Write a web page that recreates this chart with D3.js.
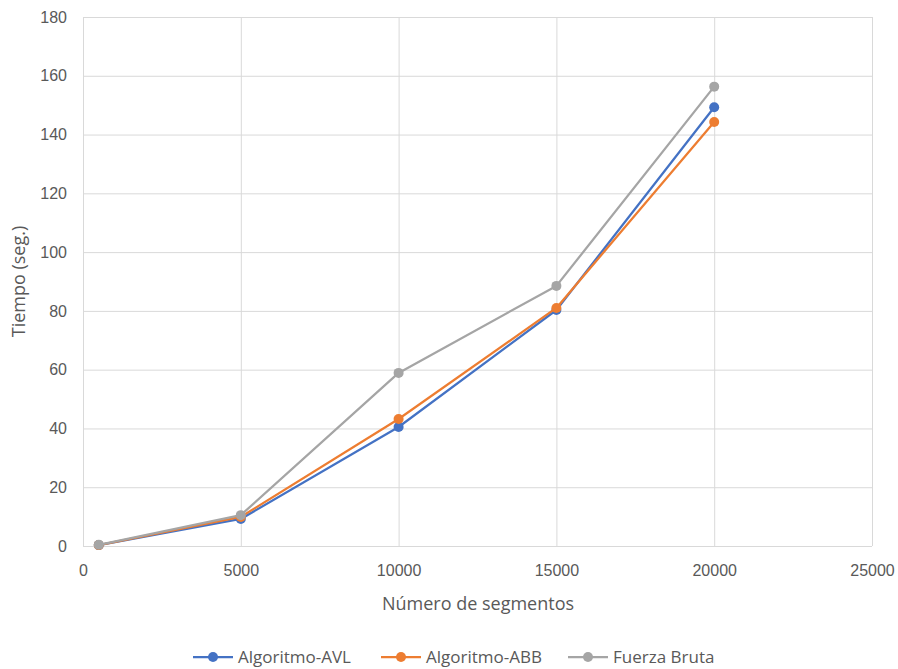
<!DOCTYPE html>
<html>
<head>
<meta charset="utf-8">
<script src="https://cdn.jsdelivr.net/npm/d3@7"></script>
<style>
  html, body { margin: 0; padding: 0; background: #fff; }
  svg { display: block; font-family: "Open Sans", "Noto Sans", sans-serif; }
</style>
</head>
<body>
<svg id="chart" width="898" height="669"></svg>
<script>
// Segment counts on the x axis
const segments = [500, 5000, 10000, 15000, 20000];

// Running time (seconds) per algorithm
const avl = [0.3, 9.2, 40.5, 80.3, 149.3];
const abb = [0.3, 9.9, 43.2, 81.0, 144.3];
const bruta = [0.4, 10.5, 58.9, 88.5, 156.3];

const seriesNames = ["Algoritmo-AVL", "Algoritmo-ABB", "Fuerza Bruta"];
const seriesColors = ["#4472C4", "#ED7D31", "#A5A5A5"];

const xTicks = [0, 5000, 10000, 15000, 20000, 25000];
const yTicks = [0, 20, 40, 60, 80, 100, 120, 140, 160, 180];

const svg = d3.select("#chart");
const margin = { left: 83, top: 17, right: 898 - 872, bottom: 669 - 546 };
const W = 898, H = 669;

const x = d3.scaleLinear().domain([0, 25000]).range([margin.left, W - margin.right]);
const y = d3.scaleLinear().domain([0, 180]).range([H - margin.bottom, margin.top]);

const grid = "#D9D9D9";
const textColor = "#595959";
const plain = d3.format("d");

// Horizontal gridlines
svg.append("g")
  .attr("transform", `translate(${margin.left},0)`)
  .call(d3.axisLeft(y).tickValues(yTicks).tickSize(-(x.range()[1] - x.range()[0])).tickFormat(""))
  .call(g => g.select(".domain").remove())
  .call(g => g.selectAll("line").attr("stroke", grid).attr("stroke-width", 1));

// Vertical gridlines
svg.append("g")
  .attr("transform", `translate(0,${y(0)})`)
  .call(d3.axisBottom(x).tickValues(xTicks).tickSize(-(y.range()[0] - y.range()[1])).tickFormat(""))
  .call(g => g.select(".domain").remove())
  .call(g => g.selectAll("line").attr("stroke", grid).attr("stroke-width", 1));

// Y tick labels
svg.append("g")
  .attr("transform", `translate(${margin.left},0)`)
  .call(d3.axisLeft(y).tickValues(yTicks).tickSize(0).tickPadding(16).tickFormat(plain))
  .call(g => g.select(".domain").remove())
  .call(g => g.selectAll("text").attr("fill", textColor).style("font-size", "16px"));

// X tick labels
svg.append("g")
  .attr("transform", `translate(0,${y(0)})`)
  .call(d3.axisBottom(x).tickValues(xTicks).tickSize(0).tickPadding(19).tickFormat(plain))
  .call(g => g.select(".domain").remove())
  .call(g => g.selectAll("text").attr("fill", textColor).style("font-size", "16px"));

// Axis titles
svg.append("text")
  .attr("x", 478)
  .attr("y", 610)
  .attr("text-anchor", "middle")
  .attr("fill", textColor)
  .style("font-size", "18px")
  .text("Número de segmentos");

svg.append("text")
  .attr("transform", `translate(25,${(y.range()[0] + y.range()[1]) / 2}) rotate(-90)`)
  .attr("text-anchor", "middle")
  .attr("fill", textColor)
  .style("font-size", "18px")
  .text("Tiempo (seg.)");

// Series lines and markers
const allSeries = [avl, abb, bruta];
const line = d3.line().x((d, i) => x(segments[i])).y(d => y(d));

allSeries.forEach((vals, s) => {
  const g = svg.append("g");
  g.append("path")
    .datum(vals)
    .attr("fill", "none")
    .attr("stroke", seriesColors[s])
    .attr("stroke-width", 2.25)
    .attr("stroke-linejoin", "round")
    .attr("d", line);
  g.selectAll("circle")
    .data(vals)
    .join("circle")
    .attr("cx", (d, i) => x(segments[i]))
    .attr("cy", d => y(d))
    .attr("r", 5)
    .attr("fill", seriesColors[s]);
});

// Legend
const legendY = 657;
const legendItems = [
  { x: 193, label: seriesNames[0] },
  { x: 381, label: seriesNames[1] },
  { x: 568, label: seriesNames[2] }
];
legendItems.forEach((it, s) => {
  const g = svg.append("g").attr("transform", `translate(${it.x},${legendY})`);
  g.append("line").attr("x1", 0).attr("x2", 40).attr("y1", 0).attr("y2", 0)
    .attr("stroke", seriesColors[s]).attr("stroke-width", 2.25);
  g.append("circle").attr("cx", 20).attr("cy", 0).attr("r", 5).attr("fill", seriesColors[s]);
  g.append("text").attr("x", 45).attr("y", 0).attr("dy", "0.35em")
    .attr("fill", textColor).style("font-size", "17px").text(it.label);
});
</script>
</body>
</html>
